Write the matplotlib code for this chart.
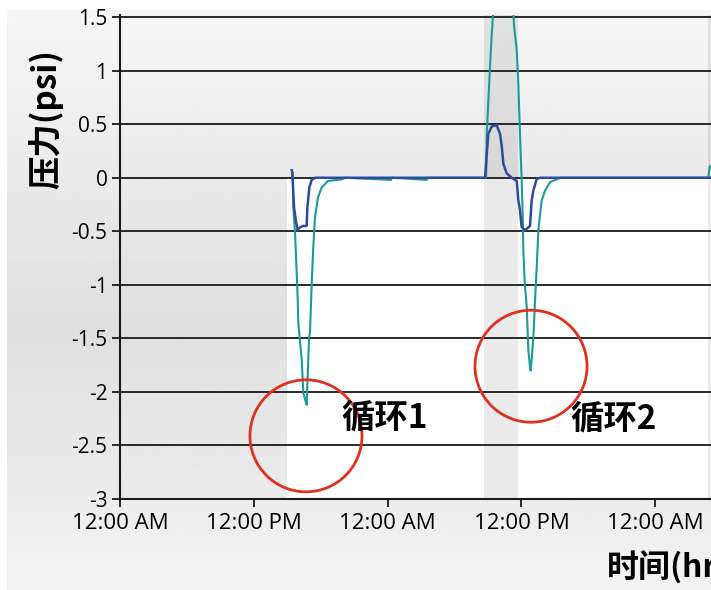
import matplotlib
matplotlib.use("Agg")
import matplotlib.pyplot as plt
import matplotlib.dates as mdates
from matplotlib.patches import Ellipse
import numpy as np
import pandas as pd

plt.rcParams['font.family'] = ['Open Sans', 'Noto Sans CJK SC', 'DejaVu Sans']
plt.rcParams['axes.unicode_minus'] = False

# hours since start of day 1
blue_hours = [15.40, 15.45, 15.50, 15.61, 15.80, 15.94, 16.05, 16.40, 16.74, 16.80,
              16.98, 17.19, 17.49, 32.74, 32.89, 33.03, 33.34, 33.78, 34.08, 34.23,
              34.38, 34.68, 35.13, 35.58, 35.72, 35.87, 36.02, 36.32, 36.77, 36.92,
              37.07, 37.37, 37.67, 53.0]
blue_psi = [0.07, 0.05, -0.05, -0.28, -0.42, -0.49, -0.47, -0.45, -0.45, -0.28,
            -0.09, -0.02, 0.0, 0.0, 0.22, 0.41, 0.48, 0.49, 0.41, 0.30,
            0.13, 0.04, 0.0, -0.03, -0.21, -0.30, -0.46, -0.49, -0.45, -0.21,
            -0.12, -0.01, 0.0, 0.0]

teal_hours = [15.43, 15.50, 15.54, 15.70, 15.85, 15.94, 15.99, 16.30, 16.44, 16.68,
              16.74, 16.80, 16.95, 17.04, 17.19, 17.33, 17.49, 17.76, 18.09, 18.65,
              19.88, 20.2, 24.3, 24.4, 27.5, 27.6, 32.83, 32.89, 33.18, 33.34,
              33.48, 33.7, 34.3, 34.9, 35.27, 35.34, 35.58, 35.72, 35.87, 36.02,
              36.12, 36.17, 36.30, 36.48, 36.62, 36.77, 36.83, 36.92, 37.07, 37.22,
              37.37, 37.52, 37.67, 37.82, 38.12, 38.57, 39.17, 39.5, 52.75, 52.9]
teal_psi = [0.07, 0.0, -0.27, -0.52, -0.90, -1.15, -1.36, -1.70, -2.01, -2.10,
            -2.12, -1.95, -1.50, -1.44, -0.99, -0.65, -0.37, -0.18, -0.09, -0.03,
            -0.015, 0.0, -0.02, 0.0, -0.02, 0.0, 0.0, 0.41, 1.03, 1.35,
            1.56, 2.2, 2.6, 2.2, 1.56, 1.42, 1.19, 0.88, 0.41, -0.02,
            -0.37, -0.68, -0.99, -1.21, -1.61, -1.77, -1.80, -1.70, -1.49, -1.15,
            -0.83, -0.49, -0.34, -0.21, -0.12, -0.04, -0.015, 0.0, 0.0, 0.11]

band_hours = [(32.65, 35.70), (52.7, 60.0)]
white_from = 14.98
cycles = [("循环1", 16.68, -2.41, 23.77, -2.24), ("循环2", 36.86, -1.76, 44.26, -2.25)]
yticks = [1.5, 1, 0.5, 0, -0.5, -1, -1.5, -2, -2.5, -3]

start = pd.Timestamp("2013-01-01 00:00")


def to_num(h):
    return mdates.date2num(start + pd.to_timedelta(np.asarray(h, dtype=float), unit="h"))


fig = plt.figure(figsize=(7.11, 5.90), dpi=100)

# grey gradient panel behind the chart
bg = fig.add_axes([7 / 711, 0, 704 / 711, 580 / 590], zorder=-1)
rows = np.linspace(10, 590, 300)
shade = np.interp(rows, [10, 330, 590], [0.965, 0.875, 0.955])
bg.imshow(np.repeat(shade[:, None], 2, axis=1), cmap='gray', vmin=0, vmax=1,
          aspect='auto', extent=[0, 1, 0, 1])
bg.axis('off')

ax = fig.add_axes([120 / 711, 91 / 590, 591 / 711, 484 / 590], zorder=1)
ax.set_facecolor('none')

x0, x1 = to_num([0, 53.0])
ax.set_xlim(x0, x1)
ax.set_ylim(-3, 1.52)

wx = to_num([white_from, 60])
ax.fill_between(wx, -3, 0, color='white', zorder=0.1, lw=0)
for a, b in band_hours:
    ax.axvspan(to_num(a), to_num(b), color='black', alpha=0.08, lw=0, zorder=0.2)

for y in yticks:
    ax.axhline(y, color='#1a1a1a', lw=1.3, zorder=0.5)

ax.plot(to_num(teal_hours), teal_psi, color='#1b9a99', lw=1.5, zorder=2)
ax.plot(to_num(blue_hours), blue_psi, color='#2f4a9c', lw=1.8, zorder=3)

for label, cx, cy, tx, ty in cycles:
    ax.add_patch(Ellipse((to_num(cx), cy), width=to_num(cx + 10.05) - to_num(cx),
                         height=1.046, fill=False, ec='#e2301f', lw=2, zorder=4))
    ax.text(to_num(tx), ty, label, ha='center', va='center', fontsize=24,
            fontweight='bold', family=['Noto Sans CJK SC', 'DejaVu Sans'], zorder=5)

ax.set_yticks(yticks)
ax.yaxis.set_major_formatter(plt.FuncFormatter(lambda v, p: f"{v:g}"))
ax.xaxis.set_major_locator(mdates.HourLocator(byhour=[0, 12]))
ax.xaxis.set_major_formatter(mdates.DateFormatter('%I:%M %p'))
ax.tick_params(axis='y', labelsize=15, length=6, width=1.3, color='#1a1a1a', pad=3)
ax.tick_params(axis='x', labelsize=16, length=6, width=1.3, color='#1a1a1a', pad=4)

for s in ['top', 'right']:
    ax.spines[s].set_visible(False)
for s in ['left', 'bottom']:
    ax.spines[s].set_linewidth(1.5)
    ax.spines[s].set_color('#1a1a1a')

fig.text(46 / 711, 1 - 119 / 590, "压力(psi)", rotation=90, ha='center', va='center',
         fontsize=24, fontweight='bold', family=['Noto Sans CJK SC', 'DejaVu Sans'])
# the reference image crops this label at the right edge
fig.text(607 / 711, 1 - 568 / 590, "时间(hr)", ha='left', va='center',
         fontsize=23, fontweight='bold', family=['Noto Sans CJK SC', 'DejaVu Sans'])

fig.savefig("out.png", dpi=100)
